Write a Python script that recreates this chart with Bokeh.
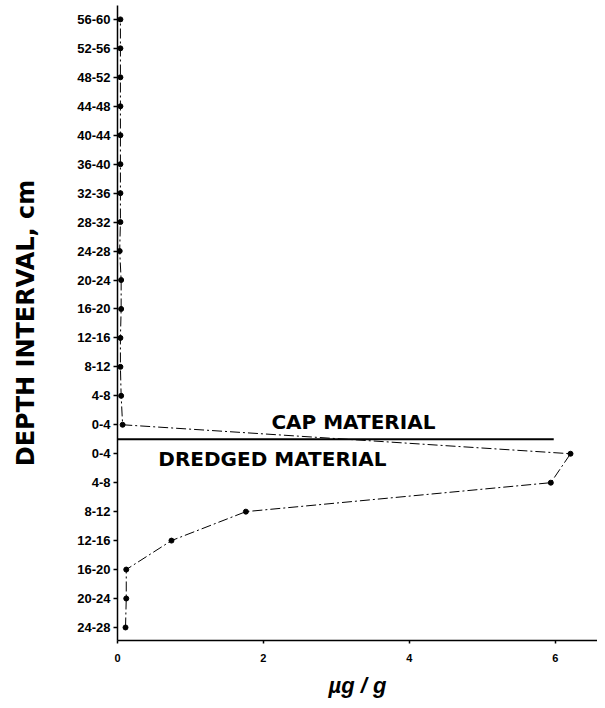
from bokeh.plotting import figure
from bokeh.models import Range1d, Label, FixedTicker
from bokeh.embed import file_html
from bokeh.resources import INLINE

# ---- data ----
dredged_labels = ["24-28", "20-24", "16-20", "12-16", "8-12", "4-8", "0-4"]
dredged_values = [0.11, 0.12, 0.12, 0.74, 1.76, 5.94, 6.21]
cap_labels = ["0-4", "4-8", "8-12", "12-16", "16-20", "20-24", "24-28", "28-32",
              "32-36", "36-40", "40-44", "44-48", "48-52", "52-56", "56-60"]
cap_values = [0.07, 0.05, 0.04, 0.04, 0.05, 0.05, 0.03, 0.04,
              0.04, 0.04, 0.04, 0.04, 0.04, 0.04, 0.04]
x_ticks = [0, 2, 4, 6]
boundary_end = 5.98

depth_labels = dredged_labels + cap_labels
values = dredged_values + cap_values
ypos = list(range(1, len(depth_labels) + 1))
boundary = len(dredged_labels) + 0.5

p = figure(width=597, height=700,
           x_range=Range1d(0, 6.58), y_range=Range1d(0.55, 22.48),
           output_backend="svg", toolbar_location=None,
           min_border_left=117, min_border_right=0,
           min_border_top=5, min_border_bottom=57)

p.outline_line_color = None
p.xgrid.visible = False
p.ygrid.visible = False
p.background_fill_color = "white"
p.border_fill_color = "white"

# separator between cap and dredged material
p.segment(x0=[p.x_range.start], x1=[boundary_end], y0=[boundary], y1=[boundary],
          line_color="black", line_width=2)

# profile line and points
p.line(values, ypos, line_color="black", line_width=1, line_dash="10 3 2 3")
p.scatter(values, ypos, size=5, color="black")

# annotations
p.add_layout(Label(x=2.11, y=8.1, text="CAP MATERIAL", text_baseline="middle",
                   text_font="DejaVu Sans", text_font_style="bold",
                   text_font_size="20px", text_color="black"))
p.add_layout(Label(x=0.56, y=6.83, text="DREDGED MATERIAL", text_baseline="middle",
                   text_font="DejaVu Sans", text_font_style="bold",
                   text_font_size="20px", text_color="black"))

# y axis
ya = p.yaxis[0]
ya.ticker = FixedTicker(ticks=ypos)
ya.major_label_overrides = {y: lab for y, lab in zip(ypos, depth_labels)}
ya.major_label_text_font = "Liberation Sans"
ya.major_label_text_font_style = "bold"
ya.major_label_text_font_size = "13px"
ya.major_label_text_color = "black"
ya.major_label_standoff = 3
ya.major_tick_out = 4
ya.major_tick_in = 0
ya.major_tick_line_width = 1.5
ya.minor_tick_line_color = None
ya.axis_line_width = 1.5
ya.axis_line_color = "black"
ya.major_tick_line_color = "black"
ya.axis_label = "DEPTH INTERVAL, cm"
ya.axis_label_text_font = "DejaVu Sans"
ya.axis_label_text_font_style = "bold"
ya.axis_label_text_font_size = "24px"
ya.axis_label_text_color = "black"
ya.axis_label_standoff = 34

# x axis
xa = p.xaxis[0]
xa.ticker = FixedTicker(ticks=x_ticks)
xa.major_label_text_font = "Liberation Sans"
xa.major_label_text_font_style = "bold"
xa.major_label_text_font_size = "11px"
xa.major_label_text_color = "black"
xa.major_label_standoff = 10
xa.major_tick_out = 3
xa.major_tick_in = 0
xa.major_tick_line_width = 1.5
xa.minor_tick_line_color = None
xa.axis_line_width = 1.5
xa.axis_line_color = "black"
xa.major_tick_line_color = "black"
xa.axis_label = "\u00b5g / g"
xa.axis_label_text_font = "Liberation Sans"
xa.axis_label_text_font_style = "bold italic"
xa.axis_label_text_font_size = "22px"
xa.axis_label_text_color = "black"
xa.axis_label_standoff = 8

open("out.html", "w").write(file_html(p, INLINE))
